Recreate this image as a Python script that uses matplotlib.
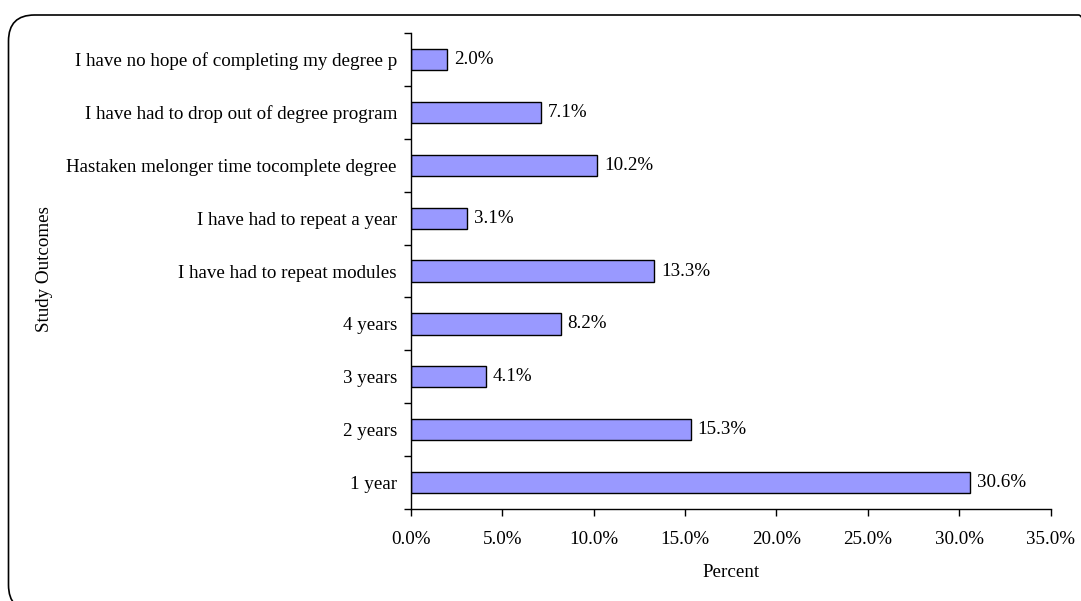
import matplotlib.pyplot as plt
import numpy as np
from matplotlib.patches import FancyBboxPatch
from matplotlib.transforms import IdentityTransform

plt.rcParams['font.family'] = ['Liberation Serif', 'DejaVu Serif']

# categories from bottom to top
outcomes = ['1 year', '2 years', '3 years', '4 years',
            'I have had to repeat modules', 'I have had to repeat a year',
            'Hastaken melonger time tocomplete degree',
            'I have had to drop out of degree program',
            'I have no hope of completing my degree p']
percents = [30.6, 15.3, 4.1, 8.2, 13.3, 3.1, 10.2, 7.1, 2.0]
xticks = [0, 5, 10, 15, 20, 25, 30, 35]

fs = 13.7

fig = plt.figure(figsize=(10.81, 6.01), dpi=100)
ax = fig.add_axes([0.380, 0.153, 0.592, 0.792])

y = np.arange(len(outcomes))
ax.barh(y, percents, height=0.4, color='#9999FF', edgecolor='black', linewidth=1.0)

for yi, v in zip(y, percents):
    ax.annotate('%.1f%%' % v, (v, yi), xytext=(5, 0), textcoords='offset points',
                va='center', ha='left', fontsize=fs)

ax.set_xlim(0, 35)
ax.set_ylim(-0.5, len(outcomes) - 0.5)
ax.set_xticks(xticks)
ax.set_xticklabels(['%.1f%%' % t for t in xticks], fontsize=fs)
ax.set_yticks(y)
ax.set_yticklabels(outcomes, fontsize=fs)
ax.set_yticks(np.arange(-0.5, len(outcomes)), minor=True)
ax.tick_params(axis='y', which='major', length=0, pad=10)
ax.tick_params(axis='y', which='minor', length=5, direction='out', width=1)
ax.tick_params(axis='x', length=5, direction='out', width=1, pad=11)

for s in ['top', 'right']:
    ax.spines[s].set_visible(False)
for s in ['left', 'bottom']:
    ax.spines[s].set_linewidth(1)

ax.set_xlabel('Percent', fontsize=fs, labelpad=11)
fig.text(0.041, 0.553, 'Study Outcomes', rotation=90, ha='center', va='center', fontsize=fs)

# rounded frame around the chart (pixel coords, runs off the right/bottom edge)
frame = FancyBboxPatch((8.5, -10), 1096, 596, boxstyle='round,pad=0,rounding_size=26',
                       transform=IdentityTransform(), fill=False, edgecolor='black', linewidth=1.2)
fig.patches.append(frame)

fig.savefig('out.png', dpi=100)
